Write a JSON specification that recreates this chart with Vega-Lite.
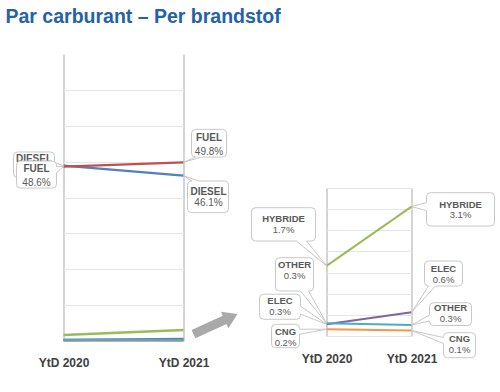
{
  "$schema": "https://vega.github.io/schema/vega-lite/v6.json",
  "padding": {"left": 5.5, "top": 6, "right": 5, "bottom": 5},
  "background": "white",
  "title": {"text": "Par carburant – Per brandstof", "anchor": "start", "font": "Liberation Sans", "fontSize": 19.5, "fontWeight": "bold", "color": "#2361a8", "dx": -6, "offset": 27},
  "datasets": {
    "fuel": [
      {"series": "CNG", "year": "YtD 2020", "value": 0.0016},
      {"series": "CNG", "year": "YtD 2021", "value": 0.0013},
      {"series": "ELEC", "year": "YtD 2020", "value": 0.0028},
      {"series": "ELEC", "year": "YtD 2021", "value": 0.0056},
      {"series": "OTHER", "year": "YtD 2020", "value": 0.003},
      {"series": "OTHER", "year": "YtD 2021", "value": 0.0026},
      {"series": "HYBRIDE", "year": "YtD 2020", "value": 0.0166},
      {"series": "HYBRIDE", "year": "YtD 2021", "value": 0.0306},
      {"series": "DIESEL", "year": "YtD 2020", "value": 0.489},
      {"series": "DIESEL", "year": "YtD 2021", "value": 0.461},
      {"series": "FUEL", "year": "YtD 2020", "value": 0.486},
      {"series": "FUEL", "year": "YtD 2021", "value": 0.498}
    ]
  },
  "bounds": "flush",
  "spacing": 143,
  "config": {
    "view": {"stroke": null},
    "font": "Liberation Sans",
    "axisX": {"title": null, "labelAngle": 0, "labelFont": "Liberation Sans", "labelFontSize": 12, "labelFontWeight": "bold", "labelColor": "#404040", "ticks": false, "tickSize": 0, "domain": false, "grid": true, "gridColor": "#c6c6c6", "gridWidth": 1.5},
    "axisY": {"title": null, "labels": false, "ticks": false, "tickSize": 0, "domain": false, "grid": true, "gridColor": "#e6e6e6", "gridWidth": 1}
  },
  "hconcat": [
    {
      "width": 120,
      "height": 287,
      "data": {"name": "fuel"},
      "encoding": {
        "x": {"field": "year", "type": "ordinal", "scale": {"type": "point", "padding": 0, "domain": ["YtD 2020", "YtD 2021"]}, "axis": {"labelPadding": 16, "grid": true}},
        "y": {"field": "value", "type": "quantitative", "scale": {"domain": [0, 0.8], "nice": false}, "axis": {"values": [0, 0.1, 0.2, 0.3, 0.4, 0.5, 0.6, 0.7]}}
      },
      "layer": [
        {"mark": {"type": "line", "strokeWidth": 2.4}, "encoding": {"color": {"field": "series", "type": "nominal", "legend": null, "sort": null, "scale": {"domain": ["FUEL", "DIESEL", "HYBRIDE", "ELEC", "OTHER", "CNG"], "range": ["#c0504d", "#4f81bd", "#9bbb59", "#8064a2", "#4bacc6", "#f79646"]}}}},
        {"transform": [{"filter": "datum.series === 'CNG' && datum.year === 'YtD 2021'"}],
         "mark": {"type": "point", "shape": "M11.9 -2.4 L43.1 -16.6 L44.9 -12.4 L54 -26.5 L37.5 -28.9 L39.3 -24.8 L8.1 -10.6 Z", "size": 4, "filled": true, "fill": "#a9a9a9", "strokeWidth": 0, "opacity": 1}},
        {"transform": [{"filter": "datum.series === 'DIESEL' && datum.year === 'YtD 2020'"}],
         "layer": [
           {"mark": {"type": "point", "shape": "M-46 -13.6 L-13 -13.6 Q-9 -13.6 -9 -9.6 L-9 -3 L0 0 L-9 3 L-9 8 Q-9 12 -13 12 L-46 12 Q-50 12 -50 8 L-50 -9.6 Q-50 -13.6 -46 -13.6 Z", "size": 4, "filled": true, "fill": "white", "stroke": "#c8c8c8", "strokeWidth": 1, "opacity": 1}},
           {"mark": {"type": "text", "dx": -29.5, "dy": -6.4, "fontSize": 10, "fontWeight": "bold", "color": "#595959"}, "encoding": {"text": {"field": "series"}}},
           {"mark": {"type": "text", "dx": -29.5, "dy": 5.4, "fontSize": 10, "color": "#595959"}, "encoding": {"text": {"field": "value", "type": "quantitative", "format": ".1%"}}}
         ]},
        {"transform": [{"filter": "datum.series === 'FUEL' && datum.year === 'YtD 2020'"}],
         "layer": [
           {"mark": {"type": "point", "shape": "M-43 -5.6 L-11 -5.6 Q-7 -5.6 -7 -1.6 L-7 0 L0 0 L-7 6 L-7 17.4 Q-7 21.4 -11 21.4 L-43 21.4 Q-47 21.4 -47 17.4 L-47 -1.6 Q-47 -5.6 -43 -5.6 Z", "size": 4, "filled": true, "fill": "white", "stroke": "#c8c8c8", "strokeWidth": 1, "opacity": 1}},
           {"mark": {"type": "text", "dx": -27, "dy": 2.7, "fontSize": 10, "fontWeight": "bold", "color": "#595959"}, "encoding": {"text": {"field": "series"}}},
           {"mark": {"type": "text", "dx": -27, "dy": 16.1, "fontSize": 10, "color": "#595959"}, "encoding": {"text": {"field": "value", "type": "quantitative", "format": ".1%"}}}
         ]},
        {"transform": [{"filter": "datum.series === 'FUEL' && datum.year === 'YtD 2021'"}],
         "layer": [
           {"mark": {"type": "point", "shape": "M12 -33 L39 -33 Q43 -33 43 -29 L43 -9.3 Q43 -5.3 39 -5.3 L18 -5.3 L0 0 L12 -5.3 Q8 -5.3 8 -9.3 L8 -29 Q8 -33 12 -33 Z", "size": 4, "filled": true, "fill": "white", "stroke": "#c8c8c8", "strokeWidth": 1, "opacity": 1}},
           {"mark": {"type": "text", "dx": 25.5, "dy": -24.6, "fontSize": 10, "fontWeight": "bold", "color": "#595959"}, "encoding": {"text": {"field": "series"}}},
           {"mark": {"type": "text", "dx": 25.5, "dy": -10.6, "fontSize": 10, "color": "#595959"}, "encoding": {"text": {"field": "value", "type": "quantitative", "format": ".1%"}}}
         ]},
        {"transform": [{"filter": "datum.series === 'DIESEL' && datum.year === 'YtD 2021'"}],
         "layer": [
           {"mark": {"type": "point", "shape": "M8 5.4 L0 0 L15 5.4 L41 5.4 Q45 5.4 45 9.4 L45 33 Q45 37 41 37 L8 37 Q4 37 4 33 L4 9.4 Q4 5.4 8 5.4 Z", "size": 4, "filled": true, "fill": "white", "stroke": "#c8c8c8", "strokeWidth": 1, "opacity": 1}},
           {"mark": {"type": "text", "dx": 25, "dy": 16.1, "fontSize": 10, "fontWeight": "bold", "color": "#595959"}, "encoding": {"text": {"field": "series"}}},
           {"mark": {"type": "text", "dx": 25, "dy": 27.7, "fontSize": 10, "color": "#595959"}, "encoding": {"text": {"field": "value", "type": "quantitative", "format": ".1%"}}}
         ]}
      ]
    },
    {
      "bounds": "flush",
      "spacing": 0,
      "vconcat": [
        {"width": 85, "height": 134, "data": {"values": []}, "mark": "point", "encoding": {}},
        {
          "width": 85,
          "height": 148,
          "data": {"name": "fuel"},
          "transform": [{"filter": "datum.series !== 'FUEL' && datum.series !== 'DIESEL'"}],
          "encoding": {
            "x": {"field": "year", "type": "ordinal", "scale": {"type": "point", "padding": 0, "domain": ["YtD 2020", "YtD 2021"]}, "axis": {"labelPadding": 17.6, "grid": true}},
            "y": {"field": "value", "type": "quantitative", "scale": {"domain": [0, 0.035], "nice": false}, "axis": {"values": [0, 0.005, 0.01, 0.015, 0.02, 0.025, 0.03, 0.035]}}
          },
          "layer": [
            {"mark": {"type": "line", "strokeWidth": 2}, "encoding": {"color": {"field": "series", "type": "nominal", "legend": null, "sort": null, "scale": {"domain": ["FUEL", "DIESEL", "HYBRIDE", "ELEC", "OTHER", "CNG"], "range": ["#c0504d", "#4f81bd", "#9bbb59", "#8064a2", "#4bacc6", "#f79646"]}}}},
            {"transform": [{"filter": "datum.series === 'HYBRIDE' && datum.year === 'YtD 2020'"}],
             "layer": [
               {"mark": {"type": "point", "shape": "M-71 -58.1 L-15 -58.1 Q-11 -58.1 -11 -54.1 L-11 -28.8 Q-11 -24.8 -15 -24.8 L-20 -24.8 L0 0 L-30 -24.8 L-71 -24.8 Q-75 -24.8 -75 -28.8 L-75 -54.1 Q-75 -58.1 -71 -58.1 Z", "size": 4, "filled": true, "fill": "white", "stroke": "#c8c8c8", "strokeWidth": 1, "opacity": 1}},
               {"mark": {"type": "text", "dx": -43, "dy": -46.5, "fontSize": 9.5, "fontWeight": "bold", "color": "#595959"}, "encoding": {"text": {"field": "series"}}},
               {"mark": {"type": "text", "dx": -43, "dy": -35.8, "fontSize": 9.5, "color": "#595959"}, "encoding": {"text": {"field": "value", "type": "quantitative", "format": ".1%"}}}
             ]},
            {"transform": [{"filter": "datum.series === 'OTHER' && datum.year === 'YtD 2020'"}],
             "layer": [
               {"mark": {"type": "point", "shape": "M-47 -65.6 L-17 -65.6 Q-13 -65.6 -13 -61.6 L-13 -36.3 Q-13 -32.3 -17 -32.3 L-18 -32.3 L0 0 L-26 -32.3 L-47 -32.3 Q-51 -32.3 -51 -36.3 L-51 -61.6 Q-51 -65.6 -47 -65.6 Z", "size": 4, "filled": true, "fill": "white", "stroke": "#c8c8c8", "strokeWidth": 1, "opacity": 1}},
               {"mark": {"type": "text", "dx": -32, "dy": -58.3, "fontSize": 9.5, "fontWeight": "bold", "color": "#595959"}, "encoding": {"text": {"field": "series"}}},
               {"mark": {"type": "text", "dx": -32, "dy": -47.3, "fontSize": 9.5, "color": "#595959"}, "encoding": {"text": {"field": "value", "type": "quantitative", "format": ".1%"}}}
             ]},
            {"transform": [{"filter": "datum.series === 'ELEC' && datum.year === 'YtD 2020'"}],
             "layer": [
               {"mark": {"type": "point", "shape": "M-63 -30 L-30 -30 Q-26 -30 -26 -26 L-26 -18 L0 0 L-26 -10 L-26 -8.9 Q-26 -4.9 -30 -4.9 L-63 -4.9 Q-67 -4.9 -67 -8.9 L-67 -26 Q-67 -30 -63 -30 Z", "size": 4, "filled": true, "fill": "white", "stroke": "#c8c8c8", "strokeWidth": 1, "opacity": 1}},
               {"mark": {"type": "text", "dx": -46.5, "dy": -23.2, "fontSize": 9.5, "fontWeight": "bold", "color": "#595959"}, "encoding": {"text": {"field": "series"}}},
               {"mark": {"type": "text", "dx": -46.5, "dy": -12.2, "fontSize": 9.5, "color": "#595959"}, "encoding": {"text": {"field": "value", "type": "quantitative", "format": ".1%"}}}
             ]},
            {"transform": [{"filter": "datum.series === 'CNG' && datum.year === 'YtD 2020'"}],
             "layer": [
               {"mark": {"type": "point", "shape": "M-51 -4.9 L-31 -4.9 Q-27 -4.9 -27 -0.9 L-27 0 L0 0 L-27 5 L-27 14.5 Q-27 18.5 -31 18.5 L-51 18.5 Q-55 18.5 -55 14.5 L-55 -0.9 Q-55 -4.9 -51 -4.9 Z", "size": 4, "filled": true, "fill": "white", "stroke": "#c8c8c8", "strokeWidth": 1, "opacity": 1}},
               {"mark": {"type": "text", "dx": -41, "dy": 2.5, "fontSize": 9.5, "fontWeight": "bold", "color": "#595959"}, "encoding": {"text": {"field": "series"}}},
               {"mark": {"type": "text", "dx": -41, "dy": 13.5, "fontSize": 9.5, "color": "#595959"}, "encoding": {"text": {"field": "value", "type": "quantitative", "format": ".1%"}}}
             ]},
            {"transform": [{"filter": "datum.series === 'HYBRIDE' && datum.year === 'YtD 2021'"}],
             "layer": [
               {"mark": {"type": "point", "shape": "M19 -13.9 L79 -13.9 Q83 -13.9 83 -9.9 L83 15.4 Q83 19.4 79 19.4 L19 19.4 Q15 19.4 15 15.4 L15 4 L0 0 L15 -4 L15 -9.9 Q15 -13.9 19 -13.9 Z", "size": 4, "filled": true, "fill": "white", "stroke": "#c8c8c8", "strokeWidth": 1, "opacity": 1}},
               {"mark": {"type": "text", "dx": 49, "dy": -1.6, "fontSize": 9.5, "fontWeight": "bold", "color": "#595959"}, "encoding": {"text": {"field": "series"}}},
               {"mark": {"type": "text", "dx": 49, "dy": 8.7, "fontSize": 9.5, "color": "#595959"}, "encoding": {"text": {"field": "value", "type": "quantitative", "format": ".1%"}}}
             ]},
            {"transform": [{"filter": "datum.series === 'ELEC' && datum.year === 'YtD 2021'"}],
             "layer": [
               {"mark": {"type": "point", "shape": "M17 -51.3 L47 -51.3 Q51 -51.3 51 -47.3 L51 -30.3 Q51 -26.3 47 -26.3 L24 -26.3 L0 0 L17 -26.3 Q13 -26.3 13 -30.3 L13 -47.3 Q13 -51.3 17 -51.3 Z", "size": 4, "filled": true, "fill": "white", "stroke": "#c8c8c8", "strokeWidth": 1, "opacity": 1}},
               {"mark": {"type": "text", "dx": 32, "dy": -43, "fontSize": 9.5, "fontWeight": "bold", "color": "#595959"}, "encoding": {"text": {"field": "series"}}},
               {"mark": {"type": "text", "dx": 32, "dy": -32, "fontSize": 9.5, "color": "#595959"}, "encoding": {"text": {"field": "value", "type": "quantitative", "format": ".1%"}}}
             ]},
            {"transform": [{"filter": "datum.series === 'OTHER' && datum.year === 'YtD 2021'"}],
             "layer": [
               {"mark": {"type": "point", "shape": "M22 -22.3 L56 -22.3 Q60 -22.3 60 -18.3 L60 -3.5 Q60 0.5 56 0.5 L22 0.5 Q18 0.5 18 -3.5 L18 -4 L0 0 L18 -10 L18 -18.3 Q18 -22.3 22 -22.3 Z", "size": 4, "filled": true, "fill": "white", "stroke": "#c8c8c8", "strokeWidth": 1, "opacity": 1}},
               {"mark": {"type": "text", "dx": 39, "dy": -16.7, "fontSize": 9.5, "fontWeight": "bold", "color": "#595959"}, "encoding": {"text": {"field": "series"}}},
               {"mark": {"type": "text", "dx": 39, "dy": -5.7, "fontSize": 9.5, "color": "#595959"}, "encoding": {"text": {"field": "value", "type": "quantitative", "format": ".1%"}}}
             ]},
            {"transform": [{"filter": "datum.series === 'CNG' && datum.year === 'YtD 2021'"}],
             "layer": [
               {"mark": {"type": "point", "shape": "M36 2.2 L60 2.2 Q64 2.2 64 6.2 L64 23.2 Q64 27.2 60 27.2 L36 27.2 Q32 27.2 32 23.2 L32 13 L0 0 L32 7 L32 6.2 Q32 2.2 36 2.2 Z", "size": 4, "filled": true, "fill": "white", "stroke": "#c8c8c8", "strokeWidth": 1, "opacity": 1}},
               {"mark": {"type": "text", "dx": 48, "dy": 8.8, "fontSize": 9.5, "fontWeight": "bold", "color": "#595959"}, "encoding": {"text": {"field": "series"}}},
               {"mark": {"type": "text", "dx": 48, "dy": 19.8, "fontSize": 9.5, "color": "#595959"}, "encoding": {"text": {"field": "value", "type": "quantitative", "format": ".1%"}}}
             ]}
          ]
        }
      ]
    }
  ]
}
